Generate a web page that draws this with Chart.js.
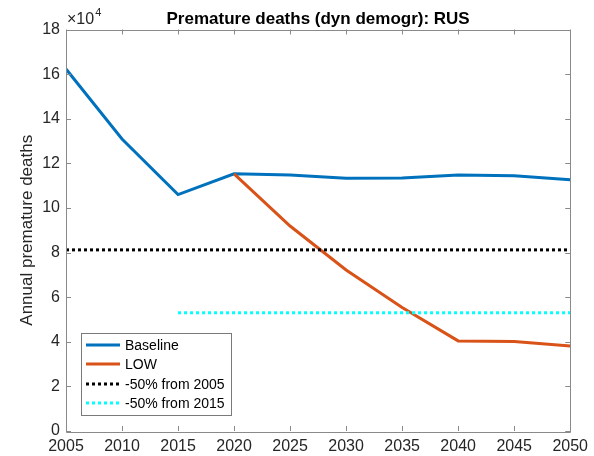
<!DOCTYPE html>
<html>
<head>
<meta charset="utf-8">
<script src="https://cdn.jsdelivr.net/npm/chart.js@4"></script>
<style>
    html, body { margin: 0; padding: 0; background: #fff; }
    #wrap { width: 594px; height: 456px; position: relative; }
</style>
</head>
<body>
<div id="wrap"><canvas id="deathsChart"></canvas></div>
<script>
// ============================================
// DATA
// ============================================
const years = [2005, 2010, 2015, 2020, 2025, 2030, 2035, 2040, 2045, 2050];
const baseline = [162300, 130900, 106000, 115300, 114800, 113300, 113400, 114800, 114400, 112600];
const lowYears = [2020, 2025, 2030, 2035, 2040, 2045, 2050];
const low = [115300, 91900, 72200, 55400, 40400, 40100, 38100];
const ref2005Years = [2005, 2050];
const ref2005 = [81200, 81200];
const ref2015Years = [2015, 2050];
const ref2015 = [53000, 53000];
const xTicks = [2005, 2010, 2015, 2020, 2025, 2030, 2035, 2040, 2045, 2050];
const yTicks = [0, 20000, 40000, 60000, 80000, 100000, 120000, 140000, 160000, 180000];

const FONT = '"Liberation Sans", Arial, Helvetica, sans-serif';
const TEXT = '#262626';
const AXIS = '#8a8a8a';

function pts(xs, ys) {
    return xs.map((x, i) => ({ x: x, y: ys[i] }));
}

// ============================================
// MATLAB-STYLE FRAME, TITLE, LEGEND
// ============================================
const matlabFrame = {
    id: 'matlabFrame',
    afterDatasetsDraw(chart) {
        const ctx = chart.ctx;
        const a = chart.chartArea;
        const xs = chart.scales.x;
        const ys = chart.scales.y;
        const tl = 5;
        ctx.save();
        ctx.strokeStyle = AXIS;
        ctx.lineWidth = 1;
        ctx.beginPath();
        ctx.rect(Math.round(a.left) + 0.5, Math.round(a.top) + 0.5,
                 Math.round(a.right - a.left), Math.round(a.bottom - a.top));
        xTicks.forEach(v => {
            const px = Math.round(xs.getPixelForValue(v)) + 0.5;
            ctx.moveTo(px, a.bottom); ctx.lineTo(px, a.bottom - tl);
            ctx.moveTo(px, a.top); ctx.lineTo(px, a.top + tl);
        });
        yTicks.forEach(v => {
            const py = Math.round(ys.getPixelForValue(v)) + 0.5;
            ctx.moveTo(a.left, py); ctx.lineTo(a.left + tl, py);
            ctx.moveTo(a.right, py); ctx.lineTo(a.right - tl, py);
        });
        ctx.stroke();

        // title
        ctx.fillStyle = '#000';
        ctx.font = 'bold 17px ' + FONT;
        ctx.textAlign = 'center';
        ctx.textBaseline = 'alphabetic';
        ctx.fillText('Premature deaths (dyn demogr): RUS', (a.left + a.right) / 2, 24);

        // exponent label
        ctx.fillStyle = TEXT;
        ctx.textAlign = 'left';
        ctx.font = '16px ' + FONT;
        ctx.fillText('\u00d710', a.left + 1, 24);
        const w = ctx.measureText('\u00d710').width;
        ctx.font = '11px ' + FONT;
        ctx.fillText('4', a.left + 1 + w + 1, 16);

        // legend
        const lx = 81.5, ly = 333.5, lw = 150, lh = 82;
        ctx.fillStyle = '#fff';
        ctx.fillRect(lx, ly, lw, lh);
        ctx.strokeStyle = '#7a7a7a';
        ctx.strokeRect(lx, ly, lw, lh);
        const items = chart.data.datasets;
        const rows = [345, 364, 384, 403];
        ctx.font = '14px ' + FONT;
        ctx.textBaseline = 'middle';
        items.forEach((ds, i) => {
            const y = rows[i];
            ctx.beginPath();
            ctx.strokeStyle = ds.borderColor;
            ctx.lineWidth = ds.borderWidth;
            ctx.setLineDash(ds.borderDash || []);
            ctx.moveTo(86, y); ctx.lineTo(120, y);
            ctx.stroke();
            ctx.setLineDash([]);
            ctx.fillStyle = '#000';
            ctx.fillText(ds.label, 125, y + 1);
        });
        ctx.restore();
    }
};

// ============================================
// CHART
// ============================================
new Chart(document.getElementById('deathsChart'), {
    type: 'line',
    data: {
        datasets: [
            { label: 'Baseline', data: pts(years, baseline), borderColor: '#0072BD', borderWidth: 3, order: 3 },
            { label: 'LOW', data: pts(lowYears, low), borderColor: '#D95319', borderWidth: 3, order: 2 },
            { label: '-50% from 2005', data: pts(ref2005Years, ref2005), borderColor: '#000000', borderWidth: 3, borderDash: [3, 3], order: 1 },
            { label: '-50% from 2015', data: pts(ref2015Years, ref2015), borderColor: '#00FFFF', borderWidth: 3, borderDash: [3, 3], order: 0 }
        ]
    },
    options: {
        responsive: true,
        maintainAspectRatio: false,
        animation: false,
        layout: { padding: { top: 29.5, right: 18, left: 0, bottom: 0 } },
        elements: {
            point: { radius: 0 },
            line: { tension: 0, borderCapStyle: 'butt', borderJoinStyle: 'miter', fill: false }
        },
        plugins: {
            legend: { display: false },
            title: { display: false },
            tooltip: { enabled: false }
        },
        scales: {
            x: {
                type: 'linear',
                min: 2005,
                max: 2050,
                afterFit(scale) { scale.height = 25; },
                afterBuildTicks(scale) { scale.ticks = xTicks.map(v => ({ value: v })); },
                grid: { display: false, drawTicks: false },
                border: { display: false },
                ticks: {
                    color: TEXT,
                    padding: 6,
                    maxRotation: 0,
                    font: { family: FONT, size: 16 },
                    callback: v => String(v)
                }
            },
            y: {
                type: 'linear',
                min: 0,
                max: 180000,
                afterFit(scale) { scale.width = 66; },
                afterBuildTicks(scale) { scale.ticks = yTicks.map(v => ({ value: v })); },
                grid: { display: false, drawTicks: false },
                border: { display: false },
                ticks: {
                    color: TEXT,
                    padding: 6,
                    font: { family: FONT, size: 16 },
                    callback: v => String(v / 10000)
                },
                title: {
                    display: true,
                    text: 'Annual premature deaths',
                    color: TEXT,
                    padding: { top: 17, bottom: 0 },
                    font: { family: FONT, size: 17 }
                }
            }
        }
    },
    plugins: [matlabFrame]
});
</script>
</body>
</html>
